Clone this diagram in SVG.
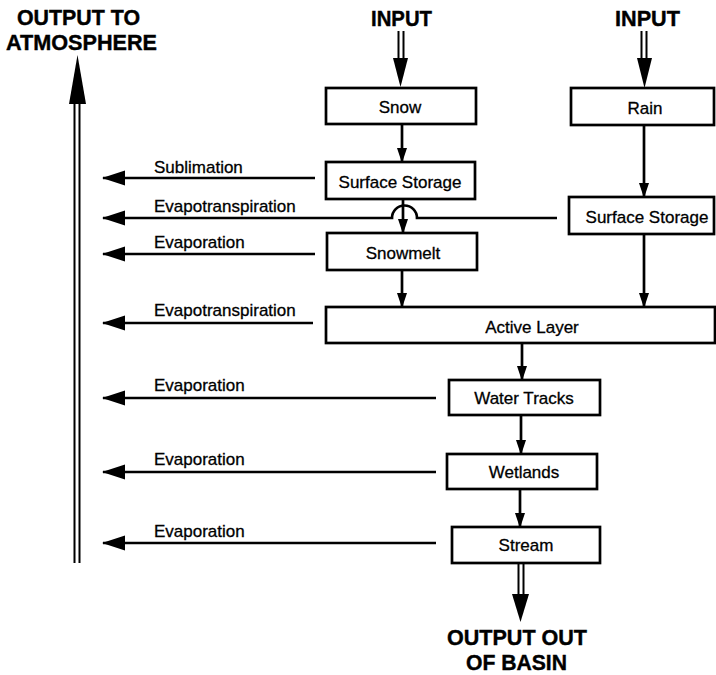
<svg xmlns="http://www.w3.org/2000/svg" width="716" height="675" viewBox="0 0 716 675">
<defs>
<style>
.box{fill:#fff;stroke:#000;stroke-width:2.7}
.lbl{font-family:"Liberation Sans",Arial,Helvetica,sans-serif;font-size:17px;fill:#000;stroke:#000;stroke-width:0.3;text-anchor:middle}
.side{font-family:"Liberation Sans",Arial,Helvetica,sans-serif;font-size:17px;fill:#000;stroke:#000;stroke-width:0.3}
.big{font-family:"Liberation Sans",Arial,Helvetica,sans-serif;font-size:22px;font-weight:bold;fill:#000;stroke:#000;stroke-width:0.4}
.ln{fill:none;stroke:#000;stroke-width:2.5}
.dbl{fill:none;stroke:#000;stroke-width:2}
.down{fill:none;stroke:#000;stroke-width:2.7;marker-end:url(#ad)}
.left{fill:none;stroke:#000;stroke-width:2.7;marker-end:url(#al)}
</style>
<marker id="ad" markerUnits="userSpaceOnUse" viewBox="0 -6 16 12" markerWidth="16" markerHeight="12" refX="14" refY="0" orient="auto">
<path d="M0,-5 L15,0 L0,5 Z" fill="#000"/>
</marker>
<marker id="al" markerUnits="userSpaceOnUse" viewBox="0 -8 24 16" markerWidth="24" markerHeight="16" refX="22" refY="0" orient="auto">
<path d="M0,-7.5 L23,0 L0,7.5 Z" fill="#000"/>
</marker>
</defs>
<rect width="716" height="675" fill="#fff"/>

<g id="titles">
<text class="big" x="17" y="25" textLength="123" lengthAdjust="spacingAndGlyphs">OUTPUT TO</text>
<text class="big" x="6" y="50" textLength="151" lengthAdjust="spacingAndGlyphs">ATMOSPHERE</text>
<text class="big" x="371" y="26" textLength="61" lengthAdjust="spacingAndGlyphs">INPUT</text>
<text class="big" x="615" y="26" textLength="65" lengthAdjust="spacingAndGlyphs">INPUT</text>
<text class="big" x="447" y="645" textLength="140" lengthAdjust="spacingAndGlyphs">OUTPUT OUT</text>
<text class="big" x="466" y="670" textLength="101" lengthAdjust="spacingAndGlyphs">OF BASIN</text>
</g>

<g id="connectors">
<!-- atmosphere output arrow -->
<line class="dbl" x1="74.5" y1="563" x2="74.5" y2="100"/>
<line class="dbl" x1="79.5" y1="563" x2="79.5" y2="100"/>
<polygon points="69,104 86,104 77.5,55" fill="#000"/>
<!-- inputs -->
<line class="dbl" x1="398.5" y1="31" x2="398.5" y2="60"/>
<line class="dbl" x1="403.5" y1="31" x2="403.5" y2="60"/>
<polygon points="393,58 408,58 400.5,87" fill="#000"/>
<line class="dbl" x1="641.5" y1="31" x2="641.5" y2="60"/>
<line class="dbl" x1="646.5" y1="31" x2="646.5" y2="60"/>
<polygon points="637,58 652,58 644.5,88" fill="#000"/>
<!-- output out of basin -->
<line class="dbl" x1="518.5" y1="563" x2="518.5" y2="597"/>
<line class="dbl" x1="523.5" y1="563" x2="523.5" y2="597"/>
<polygon points="512,594 529,594 520.5,622" fill="#000"/>
<!-- vertical flows -->
<path class="down" d="M402,124 V162"/>
<path class="down" d="M403,199 V233"/>
<path class="down" d="M402,270 V307"/>
<path class="down" d="M644,125 V197"/>
<path class="down" d="M644,234 V307"/>
<path class="down" d="M522,343 V380"/>
<path class="down" d="M521,415 V454"/>
<path class="down" d="M520,489 V527"/>
<!-- outputs to atmosphere -->
<path class="left" d="M315,178 H103"/>
<path class="left" d="M557,218 H417 A12.5,12.5 0 0 0 392,218 H103"/>
<path class="left" d="M315,254 H103"/>
<path class="left" d="M313,323 H103"/>
<path class="left" d="M436,398 H103"/>
<path class="left" d="M436,472 H103"/>
<path class="left" d="M436,543 H103"/>
</g>

<g id="flow-labels">
<text class="side" x="154" y="173">Sublimation</text>
<text class="side" x="154" y="212">Evapotranspiration</text>
<text class="side" x="154" y="248">Evaporation</text>
<text class="side" x="154" y="316">Evapotranspiration</text>
<text class="side" x="154" y="391">Evaporation</text>
<text class="side" x="154" y="465">Evaporation</text>
<text class="side" x="154" y="537">Evaporation</text>
</g>

<g id="snow"><rect class="box" x="326" y="88" width="150" height="36"/><text class="lbl" x="400" y="113">Snow</text></g>
<g id="surface-storage-snow"><rect class="box" x="326" y="162" width="149" height="37"/><text class="lbl" x="400" y="188">Surface Storage</text></g>
<g id="snowmelt"><rect class="box" x="327" y="233" width="150" height="37"/><text class="lbl" x="403" y="259">Snowmelt</text></g>
<g id="rain"><rect class="box" x="571" y="88" width="143" height="37"/><text class="lbl" x="645" y="114">Rain</text></g>
<g id="surface-storage-rain"><rect class="box" x="569" y="197" width="145" height="37"/><text class="lbl" x="647" y="223">Surface Storage</text></g>
<g id="active-layer"><rect class="box" x="326" y="307" width="389" height="36"/><text class="lbl" x="532" y="333">Active Layer</text></g>
<g id="water-tracks"><rect class="box" x="449" y="380" width="151" height="35"/><text class="lbl" x="524" y="404">Water Tracks</text></g>
<g id="wetlands"><rect class="box" x="447" y="454" width="150" height="35"/><text class="lbl" x="524" y="478">Wetlands</text></g>
<g id="stream"><rect class="box" x="452" y="527" width="148" height="36"/><text class="lbl" x="526" y="551">Stream</text></g>
</svg>
